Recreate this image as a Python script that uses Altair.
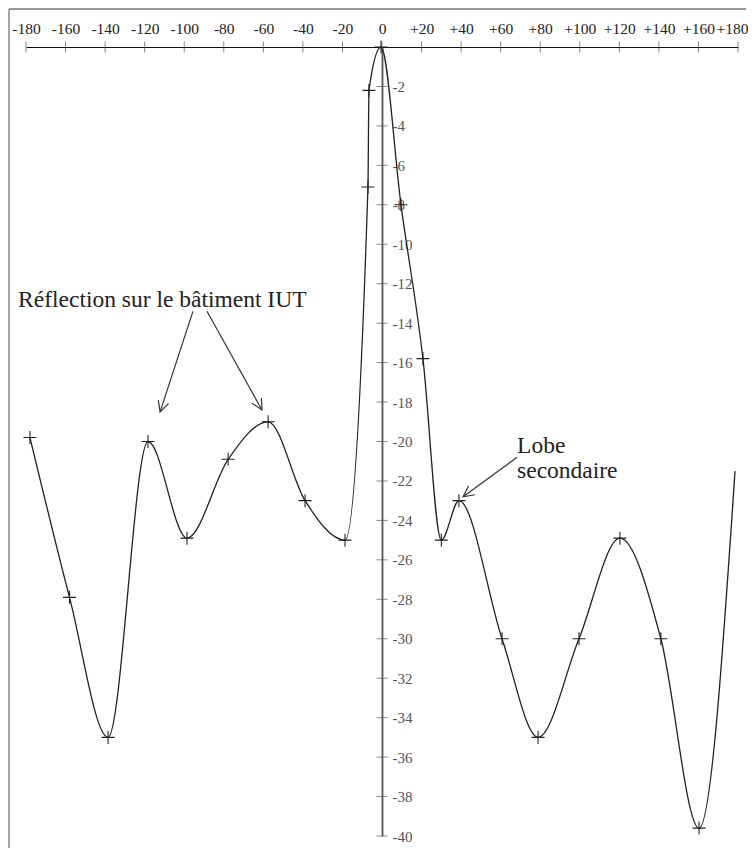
import math
import altair as alt
import pandas as pd

# Measured radiation pattern (angle in degrees, level in dB)
angles = [-178, -158, -138.5, -118.3, -98.6, -77.8, -57.6, -38.9, -18.7, -7.1, -6.6, -0.5,
          9.6, 20.7, 30.0, 38.9, 60.7, 78.9, 99.6, 120.3, 141.0, 160.3, 178.5]
levels = [-19.8, -27.9, -35.0, -20.0, -24.9, -20.9, -19.0, -23.0, -25.0, -7.1, -2.2, 0.0,
          -8.0, -15.8, -25.0, -23.0, -30.0, -35.0, -30.0, -24.9, -30.0, -39.6, -21.5]
marked = [True] * 22 + [False]

x_ticks = list(range(-180, 181, 20))
y_ticks = list(range(-40, -1, 2))

note_iut = "Réflection sur le bâtiment IUT"
note_lobe = "Lobe\nsecondaire"

FONT = "Liberation Serif"

W, H = 712, 789
PXX = W / 360.0
PXY = H / 40.0

df = pd.DataFrame({"angle": angles, "level": levels, "marked": marked})
pts = df[df["marked"]]

# annotation arrows (data coordinates): start -> tip
arrow_x1 = [-95.6, -88.5, 68.3]
arrow_y1 = [-13.4, -13.4, -20.8]
arrow_x2 = [-112.2, -60.7, 41.0]
arrow_y2 = [-18.5, -18.4, -22.8]


def head_angle(x1, y1, x2, y2):
    dx = (x2 - x1) * PXX
    dy = -(y2 - y1) * PXY
    a = math.degrees(math.atan2(dx, -dy))
    return a % 360


arrows = pd.DataFrame({
    "angle": arrow_x1, "level": arrow_y1, "angle2": arrow_x2, "level2": arrow_y2,
    "rot": [head_angle(a, b, c, d) for a, b, c, d in zip(arrow_x1, arrow_y1, arrow_x2, arrow_y2)],
})

xscale = alt.Scale(domain=[-180, 180], nice=False, zero=False)
yscale = alt.Scale(domain=[-40, 0], nice=False, zero=False)

xaxis = alt.Axis(orient="top", values=x_ticks, title=None, grid=False, ticks=False, tickSize=0,
                 domainColor="#111", domainWidth=1.2, labelPadding=11,
                 labelFont=FONT, labelFontSize=15.5, labelColor="#222",
                 labelExpr="datum.value > 0 ? '+' + datum.value : '' + datum.value",
                 labelOffset={"condition": {"test": "datum.value == 180", "value": -6}, "value": 0},
                 labelOverlap=False, labelFlush=False)
yaxis = alt.Axis(orient="right", offset=-W / 2, values=y_ticks, title=None, grid=False,
                 ticks=False, tickSize=0, domainColor="#555", domainWidth=1.8,
                 labelPadding=10, labelFont=FONT, labelFontSize=15,
                 labelExpr="'' + datum.value",
                 labelColor="#555", labelOverlap=False, labelFlush=False)


def X(field="angle"):
    return alt.X(f"{field}:Q", scale=xscale, axis=xaxis)


def Y(field="level"):
    return alt.Y(f"{field}:Q", scale=yscale, axis=yaxis)


xt = pd.DataFrame({"angle": x_ticks, "level": [0] * len(x_ticks)})
yt = pd.DataFrame({"angle": [0] * len(y_ticks), "level": y_ticks})

xtick_layer = alt.Chart(xt).mark_tick(orient="vertical", size=11, thickness=1,
                                       color="#555", strokeDash=[2, 1.5]).encode(x=X(), y=Y())
ytick_layer = alt.Chart(yt).mark_tick(orient="horizontal", size=11, thickness=1,
                                       color="#555", strokeDash=[2, 1.5]).encode(x=X(), y=Y())

line = alt.Chart(df).mark_line(interpolate="monotone", color="#222", strokeWidth=1.3).encode(
    x=X(), y=Y(), order="angle:Q")

points = alt.Chart(pts).mark_point(shape="M-1,0L1,0M0,-1L0,1", size=169, filled=False,
                                   color="#222", strokeWidth=1.1, opacity=1).encode(x=X(), y=Y())

arrow_lines = alt.Chart(arrows).mark_rule(color="#333", strokeWidth=1.2).encode(
    x=X(), y=Y(), x2="angle2:Q", y2="level2:Q")
arrow_heads = alt.Chart(arrows).mark_point(shape="M-0.5,1L0,0L0.5,1", size=460, filled=False,
                                           color="#333", strokeWidth=1.2, opacity=1).encode(
    x=X("angle2"), y=Y("level2"), angle=alt.Angle("rot:Q", scale=None))

t1 = alt.Chart(pd.DataFrame({"angle": [-184], "level": [-13.2], "t": [note_iut]})).mark_text(
    align="left", baseline="alphabetic", font=FONT, fontSize=23.5, color="#222"
).encode(x=X(), y=Y(), text="t:N")

t2 = alt.Chart(pd.DataFrame({"angle": [68.3], "level": [-20.6], "t": [note_lobe]})).mark_text(
    align="left", baseline="alphabetic", font=FONT, fontSize=23.5, color="#222",
    lineBreak="\n", lineHeight=25
).encode(x=X(), y=Y(), text="t:N")

frame_left = alt.Chart(pd.DataFrame({"k": [0]})).mark_rule(color="#888", strokeWidth=1.5).encode(
    x=alt.value(-17), y=alt.value(-38), y2=alt.value(H + 12))
frame_top = alt.Chart(pd.DataFrame({"k": [0]})).mark_rule(color="#777", strokeWidth=1.5).encode(
    x=alt.value(-17), x2=alt.value(W + 8), y=alt.value(-38))

chart = alt.layer(frame_left, frame_top, xtick_layer, ytick_layer, line, points,
                  arrow_lines, arrow_heads, t1, t2).properties(
    width=W, height=H, autosize="none",
    padding={"left": 18, "top": 39, "right": 10, "bottom": 12},
    background="white",
).configure_view(stroke=None)

chart.save("out.html", embed_options={"renderer": "svg", "actions": False})
